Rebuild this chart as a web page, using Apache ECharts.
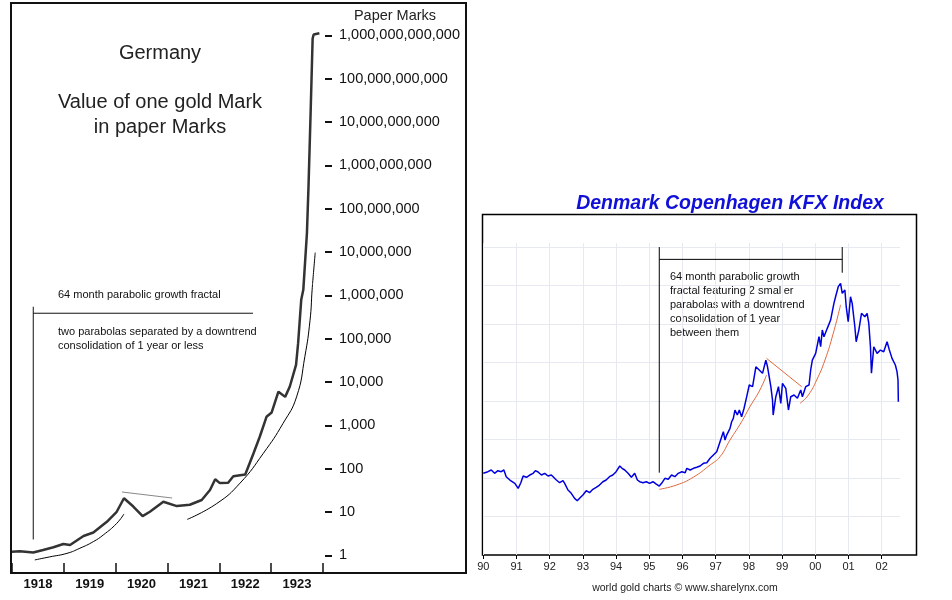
<!DOCTYPE html>
<html>
<head>
<meta charset="utf-8">
<title>Germany paper Marks / Denmark KFX</title>
<script src="https://cdn.jsdelivr.net/npm/echarts@6.0.0/dist/echarts.min.js"></script>
<style>
  html, body { margin: 0; padding: 0; background: #fff; }
  #chart { width: 952px; height: 600px; }
</style>
</head>
<body>
<div id="chart"></div>
<script>
// ---- Germany: value of one gold Mark in paper Marks (log scale) ----
const germanyYears = [1918.0, 1918.15, 1918.41, 1918.6, 1918.8, 1918.99, 1919.12, 1919.38, 1919.57, 1919.83,
  1920.02, 1920.16, 1920.34, 1920.52, 1920.66, 1920.92, 1921.18, 1921.43, 1921.66, 1921.82,
  1921.92, 1922.01, 1922.17, 1922.27, 1922.5, 1922.66, 1922.78, 1922.91, 1923.01, 1923.14,
  1923.27, 1923.36, 1923.48, 1923.52, 1923.58, 1923.62, 1923.69, 1923.72, 1923.76, 1923.8,
  1923.82, 1923.93]
const germanyMarks = [1.22, 1.26, 1.17, 1.34, 1.55, 1.84, 1.74, 2.82, 3.39, 6.0,
  10.2, 20.9, 13.5, 8.1, 10.2, 17.4, 13.8, 14.8, 19.1, 32.4,
  57.5, 46.8, 47.9, 67.6, 74.1, 229, 550, 1585, 1995, 6026,
  4571, 7943, 25119, 79433, 794000, 1350000, 27500000, 316000000, 14800000000, 850000000000,
  1050000000000, 1120000000000]
// fitted parabolas and the consolidation line
const parabola1Years = [1918.44, 1918.73, 1919.06, 1919.31, 1919.57, 1919.76, 1920.02, 1920.16]
const parabola1Marks = [0.79, 0.93, 1.12, 1.47, 2.09, 2.97, 5.5, 9.1]
const parabola2Years = [1921.38, 1921.95, 1922.4, 1922.85, 1923.23, 1923.49, 1923.65, 1923.75, 1923.79, 1923.81, 1923.85]
const parabola2Marks = [6.8, 15.8, 46.8, 229, 1122, 4571, 38900, 269000, 1350000, 2690000, 9770000]
const consolYears = [1920.12, 1921.09]
const consolMarks = [29.2, 21.2]
const germanyYearTicks = [1918, 1919, 1920, 1921, 1922, 1923, 1924]
const germanyYearLabels = [1918, 1919, 1920, 1921, 1922, 1923]
const germanyDecades = [0, 1, 2, 3, 4, 5, 6, 7, 8, 9, 10, 11, 12]

// ---- Denmark Copenhagen KFX Index ----
const kfxYears = [1990.0, 1990.14, 1990.24, 1990.34, 1990.44, 1990.54, 1990.62, 1990.69, 1990.8, 1990.84,
  1990.95, 1991.05, 1991.13, 1991.2, 1991.3, 1991.4, 1991.5, 1991.57, 1991.65, 1991.75,
  1991.85, 1991.95, 1992.05, 1992.2, 1992.3, 1992.4, 1992.45, 1992.55, 1992.65, 1992.75,
  1992.83, 1992.9, 1993.0, 1993.1, 1993.2, 1993.3, 1993.4, 1993.5, 1993.6, 1993.7,
  1993.8, 1993.9, 1994.0, 1994.11, 1994.18, 1994.26, 1994.36, 1994.46, 1994.56, 1994.64,
  1994.71, 1994.81, 1994.91, 1995.01, 1995.11, 1995.21, 1995.3, 1995.37, 1995.47, 1995.57,
  1995.67, 1995.77, 1995.87, 1995.98, 1996.08, 1996.13, 1996.23, 1996.33, 1996.43, 1996.53,
  1996.63, 1996.73, 1996.83, 1996.93, 1997.03, 1997.08, 1997.18, 1997.23, 1997.28, 1997.33,
  1997.43, 1997.48, 1997.53, 1997.58, 1997.65, 1997.71, 1997.78, 1997.85, 1997.93, 1998.01,
  1998.11, 1998.21, 1998.31, 1998.41, 1998.51, 1998.56, 1998.61, 1998.66, 1998.71, 1998.73,
  1998.81, 1998.89, 1998.96, 1999.01, 1999.11, 1999.19, 1999.26, 1999.36, 1999.46, 1999.56,
  1999.61, 1999.71, 1999.81, 1999.86, 1999.91, 2000.01, 2000.11, 2000.16, 2000.21, 2000.26,
  2000.36, 2000.46, 2000.56, 2000.61, 2000.69, 2000.76, 2000.81, 2000.89, 2000.93, 2000.99,
  2001.06, 2001.11, 2001.19, 2001.23, 2001.31, 2001.39, 2001.49, 2001.56, 2001.61, 2001.66,
  2001.69, 2001.76, 2001.86, 2001.96, 2002.06, 2002.16, 2002.23, 2002.31, 2002.41, 2002.46,
  2002.49, 2002.5]
const kfxValues = [106.1, 108.2, 110.4, 106.1, 109.5, 108.2, 110.4, 101.7, 97.4, 99.6,
  93.1, 86.6, 93.9, 102.6, 100.9, 103.9, 106.1, 109.5, 107.8, 103.9,
  106.1, 102.6, 103.9, 97.4, 93.9, 96.5, 93.1, 84.4, 80.1, 73.6,
  70.5, 73.6, 77.9, 83.5, 80.9, 85.3, 87.9, 90.9, 95.2, 97.4,
  101.7, 103.9, 108.2, 115.6, 112.6, 110.4, 106.1, 100.9, 106.1, 97.4,
  95.2, 93.9, 95.2, 93.1, 95.2, 92.2, 89.6, 93.1, 99.6, 98.3,
  103.9, 101.7, 106.1, 108.2, 106.9, 112.6, 110.4, 112.6, 113.9, 115.6,
  119.1, 119.9, 125.6, 129.9, 134.2, 140.6, 153.6, 160.1, 149.3, 155.8,
  164.5, 173.1, 177.5, 188.3, 181.8, 188.3, 179.6, 190, 205, 220.8,
  218.6, 244.5, 240.3, 236, 253.2, 244.5, 231.6, 218.6, 201.3, 181.8,
  205.6, 218.6, 197, 223, 216.5, 188.3, 205.6, 207.8, 203.5, 214.3,
  205.6, 218.6, 220.8, 240.3, 253.2, 261.9, 283.5, 270.5, 292.2, 283.5,
  294.4, 305.2, 326.9, 335.5, 348.5, 352.9, 339.9, 344.2, 322.5, 303,
  335.5, 326.9, 296.5, 277, 292.2, 313.9, 309.5, 313.9, 300.9, 270.5,
  236, 270.5, 261.9, 266.2, 264, 277, 266.2, 255.4, 246.8, 238.1,
  227.3, 199.1]
const redAYears = [1995.3, 1995.82, 1996.32, 1996.83, 1997.13, 1997.43, 1997.78, 1998.03, 1998.33, 1998.53]
const redAValues = [85.3, 90.9, 100.9, 116.9, 127.7, 149.3, 173.1, 192.6, 214.3, 233.8]
const redTrendYears = [1998.53, 1999.59]
const redTrendValues = [255.4, 218.6]
const redBYears = [1999.54, 1999.79, 2000.04, 2000.29, 2000.54, 2000.76]
const redBValues = [197, 207.8, 227.3, 253.2, 287.9, 325]
const kfxYearTicks = [1990, 1991, 1992, 1993, 1994, 1995, 1996, 1997, 1998, 1999, 2000, 2001, 2002]

const zip = (xs, ys, f) => xs.map((x, i) => [x, f ? f(ys[i]) : ys[i]])
const lg = v => Math.log10(v)

const line = (name, xi, data, color, width, smooth) => ({
  name, type: 'line', xAxisIndex: xi, yAxisIndex: xi, data,
  symbol: 'none', smooth: smooth || false, silent: true,
  lineStyle: { color, width }
})

const fmtMarks = v => Math.round(Math.pow(10, v)).toLocaleString('en-US')
const txt = (text, x, y, size, align, extra) => ({
  type: 'text', x, y, silent: true,
  style: Object.assign({ text, fontSize: size, fontFamily: 'Liberation Sans, Arial, sans-serif',
    fill: '#111', textAlign: align || 'left', textVerticalAlign: 'middle' }, extra || {})
})

const chart = echarts.init(document.getElementById('chart'))
chart.setOption({
  animation: false,
  grid: [
    { left: 12, right: 629, top: 26.8, bottom: 28 },
    { left: 483.3, right: 52, top: 243.2, bottom: 45 }
  ],
  xAxis: [
    {
      gridIndex: 0, type: 'value', min: 1918, max: 1924,
      axisLine: { show: false, onZero: false },
      axisTick: { inside: true, length: 9, customValues: germanyYearTicks, lineStyle: { color: '#111', width: 1.5 } },
      axisLabel: {
        customValues: germanyYearLabels.map(y => y + 0.5),
        formatter: v => String(Math.floor(v)),
        fontSize: 13, fontWeight: 'bold', color: '#111', margin: 6,
        fontFamily: 'Liberation Sans, Arial, sans-serif'
      },
      splitLine: { show: false }
    },
    {
      gridIndex: 1, type: 'value', min: 1990, max: 2002.55,
      axisLine: { show: false, onZero: false },
      axisTick: { length: 4, customValues: kfxYearTicks, lineStyle: { color: '#000', width: 1 } },
      axisLabel: {
        customValues: kfxYearTicks,
        formatter: v => String(Math.round(v) % 100).padStart(2, '0'),
        fontSize: 11, color: '#222', margin: 6,
        fontFamily: 'Liberation Sans, Arial, sans-serif'
      },
      splitLine: { show: true, lineStyle: { color: '#e6e9f0', width: 1 } }
    }
  ],
  yAxis: [
    {
      gridIndex: 0, type: 'value', position: 'right', min: -0.381, max: 12.2, offset: 2,
      axisLine: { show: false },
      axisTick: { length: 7, customValues: germanyDecades, lineStyle: { color: '#111', width: 2 } },
      axisLabel: {
        customValues: germanyDecades, formatter: fmtMarks, margin: 14,
        fontSize: 14.5, color: '#111', fontFamily: 'Liberation Sans, Arial, sans-serif'
      },
      splitLine: { show: false }
    },
    {
      gridIndex: 1, type: 'value', min: 0, max: 405, interval: 50,
      axisLine: { show: false }, axisTick: { show: false }, axisLabel: { show: false },
      splitLine: { show: true, showMinLine: false, showMaxLine: false, lineStyle: { color: '#e6e9f0', width: 1 } }
    }
  ],
  series: [
    line('parabola 1', 0, zip(parabola1Years, parabola1Marks, lg), '#000', 1, true),
    line('parabola 2', 0, zip(parabola2Years, parabola2Marks, lg), '#000', 1, true),
    line('consolidation', 0, zip(consolYears, consolMarks, lg), '#888', 1),
    line('bracket v', 0, [[1918.41, lg(2.34)], [1918.41, lg(549500)]], '#111', 1),
    line('bracket h', 0, [[1918.41, lg(389000)], [1922.65, lg(389000)]], '#111', 1),
    line('gold Mark', 0, zip(germanyYears, germanyMarks, lg), '#333', 2.5),

    line('bracket L', 1, [[1995.3, 106.9], [1995.3, 400]], '#000', 1),
    line('bracket T', 1, [[1995.3, 384], [2000.81, 384]], '#000', 1),
    line('bracket R', 1, [[2000.81, 400], [2000.81, 366.6]], '#000', 1),
    line('KFX', 1, zip(kfxYears, kfxValues), '#0000dd', 1.5),
    line('parabola A', 1, zip(redAYears, redAValues), '#e0663a', 1, true),
    line('downtrend', 1, zip(redTrendYears, redTrendValues), '#e0663a', 1),
    line('parabola B', 1, zip(redBYears, redBValues), '#e0663a', 1, true)
  ],
  graphic: [
    // frames
    { type: 'rect', silent: true, shape: { x: 11, y: 3, width: 455, height: 570 },
      style: { fill: null, stroke: '#111', lineWidth: 2 } },
    { type: 'rect', silent: true, shape: { x: 482.5, y: 214.5, width: 434, height: 340.5 },
      style: { fill: null, stroke: '#000', lineWidth: 1.5 } },
    // Germany texts
    txt('Germany', 160, 53, 20, 'center', { fill: '#222' }),
    txt('Value of one gold Mark', 160, 102, 20, 'center', { fill: '#222' }),
    txt('in paper Marks', 160, 127, 20, 'center', { fill: '#222' }),
    txt('Paper Marks', 395, 16, 14.5, 'center', { fill: '#222' }),
    txt('64 month parabolic growth fractal', 58, 295, 11, 'left'),
    txt('two parabolas separated by a downtrend', 58, 332, 11, 'left'),
    txt('consolidation of 1 year or less', 58, 346, 11, 'left'),
    // Denmark texts
    txt('Denmark Copenhagen KFX Index', 730, 204, 19.5, 'center',
      { fill: '#1010d8', fontWeight: 'bold', fontStyle: 'italic' }),
    txt('64 month parabolic growth', 670, 277, 11, 'left'),
    txt('fractal featuring 2 smaller', 670, 291, 11, 'left'),
    txt('parabolas with a downtrend', 670, 305, 11, 'left'),
    txt('consolidation of 1 year', 670, 319, 11, 'left'),
    txt('between them', 670, 333, 11, 'left'),
    txt('world gold charts \u00a9 www.sharelynx.com', 685, 588, 10.5, 'center', { fill: '#222' })
  ]
})
</script>
</body>
</html>
